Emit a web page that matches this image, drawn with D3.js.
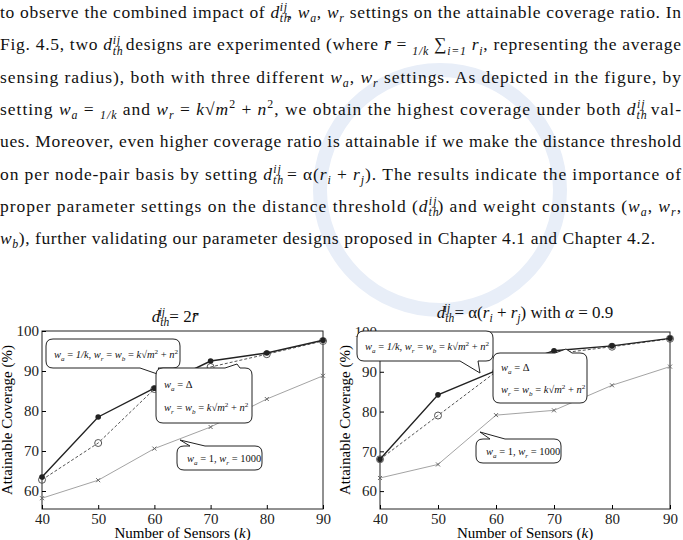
<!DOCTYPE html>
<html>
<head>
<meta charset="UTF-8">
<script src="https://cdn.jsdelivr.net/npm/d3@7"></script>
<style>
  body { margin: 0; background: #fff; }
  svg, svg text { font-family: "Liberation Serif", "Times New Roman", "DejaVu Serif", serif !important; }
</style>
</head>
<body>
<svg id="page" width="683" height="540" font-family="Liberation Serif, serif"></svg>
<script>
// data
const sensors = [40, 50, 60, 70, 80, 90];
const yTicks = [60, 70, 80, 90, 100];
const leftInvK = [63.5, 78.5, 85.7, 92.5, 94.5, 97.7];
const leftDelta = [62.8, 72.0, 85.5, 91.0, 94.2, 97.5];
const leftConst = [58.2, 62.7, 70.6, 76.0, 83.0, 88.8];
const rightInvK = [68.0, 84.2, 90.3, 95.3, 96.5, 98.4];
const rightDelta = [68.0, 79.0, 90.0, 94.5, 96.3, 98.3];
const rightConst = [63.3, 66.7, 79.1, 80.3, 86.6, 91.3];

const svg = d3.select("#page");

// faint watermark ring
svg.append("circle").attr("cx", 440).attr("cy", 190).attr("r", 120)
  .attr("fill", "none").attr("stroke", "#e8eef8").attr("stroke-width", 14);

// rich text helper: segments are [text, kind, dx] kind: n, i, sub, sup, isub, isup
function rich(g, x, y, size, segs, width) {
  const t = g.append("text").attr("x", x).attr("y", y).attr("font-size", size).attr("fill", "#111")
    .attr("font-family", "Liberation Serif, serif");
  let shift = 0;
  segs.forEach(([s, k, dx]) => {
    const sp = t.append("tspan").text(s);
    let want = 0;
    if (k && k.includes("sub")) { want = size * 0.25; sp.attr("font-size", size * 0.68); }
    if (k && k.includes("sup")) { want = -size * 0.38; sp.attr("font-size", size * 0.68); }
    if (k && k.startsWith("i")) sp.attr("font-style", "italic");
    sp.attr("dy", want - shift); shift = want;
    if (dx) sp.attr("dx", dx);
  });
  if (width) t.attr("textLength", width).attr("lengthAdjust", "spacing");
  return t;
}

const dth = (s) => [["d","i"], ["th","isub"], ["ij","isup", -s * 0.62]];
const lines = [
  [["to observe the combined impact of "], ...dth(17.5), [", "], ["w","i"], ["a","isub"], [", "], ["w","i"], ["r","isub"], [" settings on the attainable coverage ratio. In"]],
  [["Fig. 4.5, two "], ...dth(17.5), [" designs are experimented (where "], ["r̄","i"], [" = "], ["1/k","isub"], [" ∑"], ["i=1","isub"], [" "], ["r","i"], ["i","isub"], [", representing the average"]],
  [["sensing radius), both with three different "], ["w","i"], ["a","isub"], [", "], ["w","i"], ["r","isub"], [" settings. As depicted in the figure, by"]],
  [["setting "], ["w","i"], ["a","isub"], [" = "], ["1/k","isub"], [" and "], ["w","i"], ["r","isub"], [" = "], ["k","i"], ["√"], ["m","i"], ["2","sup"], [" + "], ["n","i"], ["2","sup"], [", we obtain the highest coverage under both "], ...dth(17.5), [" val-"]],
  [["ues. Moreover, even higher coverage ratio is attainable if we make the distance threshold"]],
  [["on per node-pair basis by setting "], ...dth(17.5), [" = α("], ["r","i"], ["i","isub"], [" + "], ["r","i"], ["j","isub"], ["). The results indicate the importance of"]],
  [["proper parameter settings on the distance threshold ("], ...dth(17.5), [") and weight constants ("], ["w","i"], ["a","isub"], [", "], ["w","i"], ["r","isub"], [","]],
  [["w","i"], ["b","isub"], ["), further validating our parameter designs proposed in Chapter 4.1 and Chapter 4.2."]]
];
lines.forEach((l, i) => rich(svg, 0, 18 + i * 32.3, 17.5, l, i < 7 ? 681 : 655));

function chart(cfg) {
  const x = d3.scaleLinear().domain([40, 90]).range([cfg.x0, cfg.x1]);
  const y = d3.scaleLinear().domain([55.5, 100]).range([509, cfg.yTop]);
  const g = svg.append("g");
  g.append("rect").attr("x", cfg.x0).attr("y", cfg.yTop).attr("width", cfg.x1 - cfg.x0)
    .attr("height", 509 - cfg.yTop).attr("fill", "#fff").attr("stroke", "#222");
  const ax = g.append("g").attr("transform", "translate(0,509)")
    .call(d3.axisBottom(x).tickValues(sensors).tickSize(-4).tickPadding(4));
  const ay = g.append("g").attr("transform", `translate(${cfg.x0},0)`)
    .call(d3.axisLeft(y).tickValues(yTicks).tickSize(-4).tickPadding(3));
  [ax, ay].forEach(a => {
    a.select(".domain").remove();
    a.selectAll("text").attr("font-size", 15).attr("fill", "#222")
      .attr("font-family", "Liberation Serif, serif");
  });
  g.append("text").attr("transform", `translate(${cfg.x0 - 30},420) rotate(-90)`)
    .attr("text-anchor", "middle").attr("font-size", 15).text("Attainable Coverage (%)");
  const xl = g.append("text").attr("x", (cfg.x0 + cfg.x1) / 2).attr("y", 538)
    .attr("text-anchor", "middle").attr("font-size", 15);
  xl.append("tspan").text("Number of Sensors (");
  xl.append("tspan").attr("font-style", "italic").text("k");
  xl.append("tspan").text(")");

  const line = d3.line().x((d, i) => x(sensors[i])).y(d => y(d));
  const series = [
    { v: cfg.c, stroke: "#999", w: 0.9, dash: null, mark: "x" },
    { v: cfg.d, stroke: "#555", w: 1, dash: "3,2", mark: "o" },
    { v: cfg.k, stroke: "#222", w: 1.4, dash: null, mark: "f" }
  ];
  series.forEach(s => {
    g.append("path").attr("d", line(s.v)).attr("fill", "none").attr("stroke", s.stroke)
      .attr("stroke-width", s.w).attr("stroke-dasharray", s.dash);
    s.v.forEach((v, i) => {
      const cx = x(sensors[i]), cy = y(v);
      if (s.mark === "x") g.append("path").attr("d", `M${cx-2},${cy-2}L${cx+2},${cy+2}M${cx-2},${cy+2}L${cx+2},${cy-2}`).attr("stroke", "#666");
      else if (s.mark === "o") g.append("circle").attr("cx", cx).attr("cy", cy).attr("r", 3.5).attr("fill", "none").attr("stroke", "#555");
      else g.append("circle").attr("cx", cx).attr("cy", cy).attr("r", 2.8).attr("fill", "#222");
    });
  });
  // callouts
  cfg.callouts.forEach(c => {
    const [bx, by, bw, bh] = c.box, [tx, ty] = c.tip, r = 7;
    const b1 = c.base[0], b2 = c.base[1];
    let p;
    if (c.side === "bottom")
      p = `M${bx+r},${by}H${bx+bw-r}Q${bx+bw},${by} ${bx+bw},${by+r}V${by+bh-r}Q${bx+bw},${by+bh} ${bx+bw-r},${by+bh}H${b2}L${tx},${ty}L${b1},${by+bh}H${bx+r}Q${bx},${by+bh} ${bx},${by+bh-r}V${by+r}Q${bx},${by} ${bx+r},${by}Z`;
    else
      p = `M${bx+r},${by}H${b1}L${tx},${ty}L${b2},${by}H${bx+bw-r}Q${bx+bw},${by} ${bx+bw},${by+r}V${by+bh-r}Q${bx+bw},${by+bh} ${bx+bw-r},${by+bh}H${bx+r}Q${bx},${by+bh} ${bx},${by+bh-r}V${by+r}Q${bx},${by} ${bx+r},${by}Z`;
    g.append("path").attr("d", p).attr("fill", "#fff").attr("stroke", "#222").attr("stroke-width", 1);
    c.text.forEach(([dx, dy, segs]) => rich(g, bx + dx, by + dy, 10.5, segs));
  });
  rich(g, cfg.tx, cfg.ty, 17, cfg.title).attr("text-anchor", "middle");
}

const fInvK = [["w","i"],["a","isub"],[" = "],["1/k","i"],[", "],["w","i"],["r","isub"],[" = "],["w","i"],["b","isub"],[" = "],["k","i"],["√"],["m","i"],["2","sup"],[" + "],["n","i"],["2","sup"]];
const fDa = [["w","i"],["a","isub"],[" = Δ"]];
const fDb = [["w","i"],["r","isub"],[" = "],["w","i"],["b","isub"],[" = "],["k","i"],["√"],["m","i"],["2","sup"],[" + "],["n","i"],["2","sup"]];
const fC = [["w","i"],["a","isub"],[" = 1, "],["w","i"],["r","isub"],[" = 1000"]];

chart({
  x0: 42, x1: 323, yTop: 331, k: leftInvK, d: leftDelta, c: leftConst,
  tx: 175, ty: 322, title: [...dth(17), [" = 2"], ["r̄","i"]],
  callouts: [
    { box: [46, 339, 134, 29], side: "bottom", base: [140, 158], tip: [166, 377], text: [[8, 19, fInvK]] },
    { box: [156, 368, 96, 55], side: "top", base: [225, 240], tip: [237, 364], text: [[8, 20, fDa], [8, 43, fDb]] },
    { box: [177, 446, 85, 24], side: "top", base: [190, 205], tip: [180, 440], text: [[10, 16, fC]] }
  ]
});
chart({
  x0: 380, x1: 670, yTop: 332, k: rightInvK, d: rightDelta, c: rightConst,
  tx: 525, ty: 318, title: [...dth(17), [" = α("], ["r","i"], ["i","isub"], [" + "], ["r","i"], ["j","isub"], [") with "], ["α","i"], [" = 0.9"]],
  callouts: [
    { box: [357, 331, 136, 30], side: "bottom", base: [460, 478], tip: [480, 373], text: [[8, 19, fInvK]] },
    { box: [493, 353, 94, 50], side: "top", base: [555, 572], tip: [566, 349], text: [[8, 18, fDa], [8, 40, fDb]] },
    { box: [476, 439, 85, 24], side: "top", base: [490, 505], tip: [480, 432], text: [[10, 16, fC]] }
  ]
});
</script>
</body>
</html>
